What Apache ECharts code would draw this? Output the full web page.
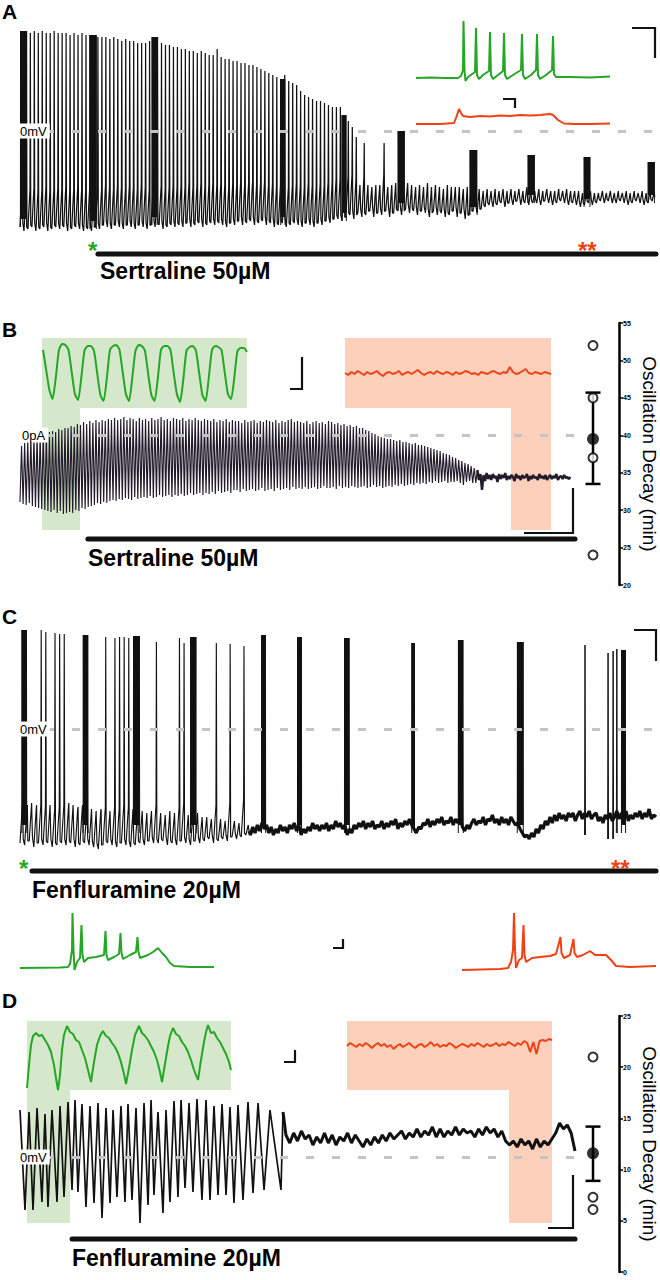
<!DOCTYPE html>
<html><head><meta charset="utf-8"><title>Oscillation decay recordings</title>
<script src="https://cdn.jsdelivr.net/npm/echarts@6/dist/echarts.min.js"></script>
<style>html,body{margin:0;padding:0;background:#fff;}#chart{width:660px;height:1280px;}</style>
</head><body><div id="chart"></div>
<script>
// ================= DATA =================
// ---- Panel A: membrane potential (mV), one value per oscillation cycle ----
const A_peak = [
 50,50,49,50,49,50,49,49,50,49, 49,49,48,49,48,49,48,48,48,47,
 47,47,46,47,46,45,46,45,45,44, 44,44,45,47,47,44,43,43,42,42,
 41,41,40,40,39,40,39,38,38,41, 37,36,36,35,35,34,34,33,33,32,
 31,30,29,28,27,26,28,25,24,23, 20,18,17,16,15,15,14,13,12,12,
 12,8,5,2,-3,-27,-6,-27,-28,-27, -27,-6,-28,-27,-26,-27,-28,-26,-27,-28,
 -27,-28,-26,-28,-27,-28,-29,-27,-28,-28, -28,-29,-28,-27,-28,-29,-30,-29,-30,-29,
 -30,-29,-30,-29,-30,-29,-30,-28,-29,-30, -29,-30,-29,-30,-30,-29,-30,-29,-30,-30,
 -30,-31,-30,-30,-31,-31,-30,-31,-30,-31, -30,-31,-30,-31,-30,-31,-30,-31,-30,-31];
const A_trough = [
 -48,-50,-49,-48,-50,-49,-48,-50,-49,-48, -49,-48,-50,-49,-48,-49,-50,-49,-50,-48,
 -49,-47,-48,-49,-47,-48,-49,-47,-48,-49, -47,-48,-49,-47,-48,-47,-49,-48,-47,-48,
 -47,-48,-46,-48,-47,-46,-48,-47,-46,-47, -46,-47,-48,-46,-47,-45,-47,-46,-45,-47,
 -46,-45,-47,-46,-48,-47,-46,-48,-47,-46, -47,-48,-46,-47,-48,-46,-47,-45,-46,-44,
 -44,-45,-43,-42,-44,-41,-43,-42,-40,-43, -41,-42,-40,-43,-41,-40,-42,-39,-41,-40,
 -42,-40,-41,-43,-40,-42,-41,-43,-42,-40, -43,-41,-44,-42,-40,-41,-39,-38,-37,-38,
 -37,-36,-38,-36,-37,-35,-37,-36,-37,-36, -36,-37,-35,-36,-37,-36,-35,-36,-37,-36,
 -37,-38,-37,-36,-37,-36,-35,-36,-35,-36, -36,-35,-36,-37,-36,-35,-36,-37,-36,-35];
const A_burstStart = [0.1, 17.6, 33.2, 65.6, 81.0, 95.1, 113.2, 127.8, 141.9, 158.0];
const A_burstLen   = [1.6, 1.6, 1.3, 1.1, 1.1, 1.6, 1.8, 1.6, 1.5, 1.6];
const A_burstTop   = [50, 48, 47, 26, 8, 0, -9.5, -12, -13, -15.5];
const A_drug = [19.6, 160];
const A_insetGreen = [[0,52],[14,52.5],[29,52],[42,52],[45,54],[47,60],[47.5,109],[48.5,60],[49.5,49],[52,53],[59,58],[60,102],[61,55],[63,51],[67,55],[73,59],[74,98],[75,55],[77,51],[82,55],[87,59],[88,97],[89,55],[91,51],[97,55],[105,60],[106,96],[107,55],[109,51],[115,55],[120,60],[121,96],[122,55],[124,51],[130,55],[136,60],[137,94],[138,56],[140,53],[154,53],[174,52.5],[194,53.5]];
const A_insetRed = [[0,6],[24,6],[38,7],[40,12],[43,21],[45,17],[47,14],[54,13],[64,14],[74,13.5],[84,14.5],[94,14],[104,15],[114,14.5],[124,15],[134,16],[137,15],[142,10],[148,6.5],[159,6],[174,6],[194,6.5]];

// ---- Panel B: current (pA), per-cycle maxima / minima, then flat tail ----
const B_hi = [
 -22,-16,-12,-6,-4,-2,0,4,2,6, 8,6,12,10,14,14,18,16,22,20,
 26,22,28,24,30,26,30,28,32,30, 34,30,32,36,30,34,32,28,34,30,
 32,28,34,30,32,36,30,32,28,34, 32,30,34,28,32,30,34,30,28,32,
 30,28,32,26,30,28,32,26,30,28, 28,24,30,26,28,30,24,28,26,30,
 28,26,30,24,28,26,30,32,26,28, 26,24,28,22,26,28,24,26,22,28,
 26,22,24,20,22,18,20,16,18,14, 14,10,8,4,2,-2,-4,-6,-8,-8,
 -10,-12,-10,-14,-14,-16,-18,-16,-20,-20, -22,-24,-26,-28,-30,-32,-36,-38,-40,-44,
 -46,-50,-52,-56,-58,-62,-66,-70];
const B_lo = [
 -134,-138,-140,-136,-142,-144,-146,-148,-150,-152, -154,-150,-156,-152,-158,-156,-154,-156,-150,-152,
 -146,-148,-144,-142,-140,-136,-138,-134,-136,-132, -130,-132,-128,-130,-126,-128,-130,-124,-128,-126,
 -124,-126,-122,-126,-124,-120,-124,-122,-120,-124, -120,-122,-118,-122,-120,-116,-120,-118,-116,-120,
 -116,-118,-114,-118,-112,-116,-114,-112,-116,-110, -110,-114,-108,-112,-110,-108,-112,-110,-106,-112,
 -110,-108,-112,-106,-110,-108,-106,-110,-104,-108, -106,-108,-104,-108,-106,-104,-108,-106,-102,-106,
 -106,-104,-108,-102,-106,-104,-106,-102,-104,-106, -104,-102,-106,-104,-100,-104,-102,-106,-104,-102,
 -104,-100,-102,-98,-102,-100,-98,-100,-96,-98, -96,-98,-94,-96,-92,-96,-94,-92,-96,-94,
 -94,-92,-96,-100,-94,-92,-96,-96];
const B_tail = [
 -90,-78,-110,-80,-92,-76,-88,-80,-90,-78, -86,-82,-94,-78,-88,-80,-86,-76,-90,-82,
 -88,-80,-84,-92,-78,-86,-82,-90,-80,-86, -84,-78,-92,-82,-88,-80,-86,-84,-90,-78,
 -86,-82,-88,-80,-90,-84,-80,-88,-82,-86, -78,-90,-84,-82,-88,-80,-86,-84,-88,-84];
const B_insetGreen = [58,38,18,
 9,30,58,64,63,58,36,14, 8,30,57,62,62,57,35,13, 7,29,58,62,63,58,36,14, 7,30,57,63,62,57,34,13,
 7,29,58,62,62,58,35,14, 6,28,57,61,62,57,35,13, 7,30,58,62,61,58,36,14, 9,30,57,60,60,56];
const B_insetRed = [35,33,36,34,37,35,33,36,34,35, 37,34,32,35,36,34,35,37,33,35,
 36,34,36,38,35,33,35,36,34,37, 35,34,36,35,33,36,34,35,37,36,
 34,35,33,36,35,34,36,37,35,34, 36,35,41,36,34,35,37,39,35,34, 36,35,34,36,35,34];
const B_drug = [21.9, 179];
const B_ticks = [20,25,30,35,40,45,50,55];
const B_open = [52, 45, 37, 24];
const B_mean = 39.5;
const B_err = [33.5, 45.7];

// ---- Panel C: membrane potential (mV) ----
const C_peak = [
 -37,-38,-37,-38,49.5,48.5,-38,48,47.5,47.5, -37,-38,-39,-38,-39,-40,-41,-40,46,-41,
 45.5,46,46,45.5,-40,-40,-41,-42,-41,43.5, -42,-43,-41,-42,45.5,43,-43,-42,-42,-44,
 -44,-45,43,-45,-46,42.5,-46,-47,41.5,-48];
const C_trough = [
 -57,-58,-56,-59,-57,-58,-57,-59,-58,-57, -58,-57,-59,-58,-57,-58,-59,-60,-58,-57,
 -58,-59,-57,-58,-59,-58,-57,-58,-56,-57, -57,-56,-58,-57,-58,-56,-57,-58,-56,-57,
 -56,-55,-57,-56,-55,-56,-54,-55,-54,-53];
const C_tail = [
 -53,-49,-52,-48,-51,-47,-50,-48,-52,-49, -53,-50,-52,-48,-51,-49,-52,-48,-50,-47,
 -51,-48,-53,-50,-52,-49,-51,-47,-50,-48, -51,-48,-50,-47,-51,-48,-50,-46,-49,-47,
 -50,-48,-53,-50,-52,-48,-50,-47,-49,-46, -50,-47,-49,-46,-50,-48,-49,-46,-50,-47,
 -49,-46,-48,-45,-50,-47,-49,-46,-48,-45, -48,-50,-52,-49,-50,-47,-48,-45,-49,-46,
 -48,-45,-47,-44,-48,-46,-47,-44,-48,-45, -47,-44,-49,-51,-48,-50,-47,-45,-48,-46,
 -47,-44,-48,-45,-46,-43,-47,-45,-48,-44, -47,-45,-48,-44,-46,-48,-47,-50,-52,-54,
 -53,-55,-52,-54,-50,-52,-48,-50,-46,-48, -44,-47,-43,-46,-42,-45,-43,-46,-42,-44,
 -42,-46,-43,-41,-45,-42,-44,-41,-45,-43, -42,-46,-44,-47,-43,-45,-42,-46,-44,-41,
 -45,-42,-44,-41,-46,-43,-45,-42,-44,-41, -45,-42,-44,-40,-45,-43,-44];
const C_burstStart = [0.4, 13.7, 24.6, 37.0, 52.4, 60.2, 70.4, 85.0, 95.1, 107.9, 130.5];
const C_burstLen   = [1.1, 1.1, 1.4, 1.2, 0.9, 0.9, 1.1, 0.6, 1.1, 1.3, 0.9];
const C_burstTop   = [49.5, 47, 46.5, 46, 47, 46, 45.5, 43, 44.5, 43.5, 39.5];
const C_spikeT   = [122.6, 127.6, 128.7, 129.5];
const C_spikeTop = [42, 38, 39, 40];
const C_spikeBot = [-53, -55, -55, -52];
const C_drug = [2.6, 138];
const C_insetGreen = [[0,7],[40,7.5],[48,8],[50,11],[52,25],[52.5,62],[53.5,25],[54.5,5],[57,13],[60,17],[61.5,50],[62.5,20],[64,13],[68,17],[76,18],[84,20],[85.5,44],[86.5,20],[88,15],[94,18],[99,21],[100.5,42],[101.5,22],[103,16],[110,20],[116,23],[117.5,38],[118.5,23],[120,17],[128,20],[133,23],[138,27],[142,22],[146,18],[150,12],[154,9],[170,8],[194,8]];
const C_insetRed = [[0,5],[38,6],[46,7],[49,13],[51,25],[52,62],[53,25],[54,7],[57,15],[60,17],[61.5,50],[62.5,20],[64,13],[70,17],[78,18],[88,19],[94,21],[98.5,38],[99.5,22],[102,17],[108,20],[111.5,36],[112.5,22],[115,18],[121,20],[128,24],[133,20],[144,20],[149,15],[154,9],[168,8],[194,9]];

// ---- Panel D: membrane potential (mV), [time s, mV] turning points then flat tail ----
const D_osc = [[0,23.5],[0.65,-26.5],[1.17,22.5],[1.69,-26.5],[2.21,24.5],[2.85,-22.5],[3.24,21.5],[3.63,-25],[4.15,23.5],[4.8,-22.5],[5.19,25.5],[5.71,-20],[6.23,27.5],[6.75,-16.5],[7.14,28.5],[7.52,-17.5],[8.04,26.5],[8.56,-25],[9.08,25.5],[9.6,-23],[10.12,27],[10.64,-30.5],[11.16,24.5],[11.68,-23],[12.07,23.5],[12.58,-20],[13.1,25.5],[13.62,-22.5],[14.01,26.5],[14.53,-21.5],[15.05,24.5],[15.57,-33],[16.09,27],[16.61,-24],[17.0,28.5],[17.38,-19],[17.9,22.5],[18.55,-28],[18.94,23.5],[19.46,-22.5],[19.98,28],[20.5,-20],[20.89,28.5],[21.41,-15.5],[21.93,27],[22.44,-17.5],[22.96,29],[23.61,-21.5],[24.13,28.5],[24.65,-21.5],[25.17,25.5],[25.69,-19],[26.21,26.5],[26.73,-19],[27.24,25],[27.76,-23],[28.28,26],[28.93,-21.5],[29.58,27.5],[30.23,-18],[30.88,27],[31.66,-16.5],[32.43,23.5],[33.86,-16.5],[34.12,22.5]];
const D_tailStart = 34.5;
const D_tail = [11,7,12,8,13,9,11,6,10,7, 12,7,11,6,10,8,12,7,11,8, 5,9,6,10,7,11,8,12,9,11,
 13,9,12,10,14,10,13,11,15,10, 14,10,13,11,15,11,14,12,13,10, 14,11,15,12,14,10,13,8,6,8,
 5,9,6,8,4,9,5,8,6,9, 12,17,14,16,12,3];
const D_insetGreen = [[0,2],[2,25],[4,45],[6,54],[9,57],[12,54],[15,55],[18,50],[21,45],[24,38],[27,25],[29,12],[31,0],[33,15],[35,40],[37,55],[40,64],[43,58],[46,56],[49,50],[52,48],[55,40],[58,32],[61,20],[64,8],[67,28],[70,45],[73,54],[76,59],[79,54],[82,52],[85,47],[88,43],[91,37],[94,28],[97,16],[99,6],[102,22],[105,40],[108,55],[112,64],[115,57],[118,54],[121,50],[124,44],[127,38],[130,30],[133,18],[135,8],[138,26],[141,44],[143,54],[146,62],[149,56],[152,54],[155,48],[158,44],[161,38],[164,30],[167,20],[171,10],[174,30],[177,48],[179,58],[181,65],[184,57],[187,58],[190,52],[193,48],[196,42],[199,36],[202,28],[204,20]];
const D_insetRed = [44,47,45,43,46,44,47,45,42,45, 47,44,46,43,45,41,44,46,43,45,
 47,44,42,45,46,43,45,48,44,46, 43,45,44,47,45,42,44,46,45,43,
 46,44,47,45,43,46,44,45,47,44, 46,45,48,46,44,47,45,49,47,38, 48,36,49,50,49,51,50];
const D_drug = [6.75, 72];
const D_ticks = [0,5,10,15,20,25];
const D_open = [21, 7.3, 6.1];
const D_mean = 11.6;
const D_err = [8.9, 14.2];

// ================= BUILD =================
const FONT = '"Liberation Sans", Arial, sans-serif';
const GREEN = '#25a625', RED = '#ee4216', INK = '#111111';
const grids = [], xAxes = [], yAxes = [], series = [];
function addGrid(box, xr, yr) {
  grids.push(Object.assign({containLabel:false}, box));
  const gi = grids.length - 1;
  xAxes.push({gridIndex:gi, type:'value', show:false, min:xr[0], max:xr[1]});
  yAxes.push({gridIndex:gi, type:'value', show:false, min:yr[0], max:yr[1]});
  return gi;
}
function line(gi, data, color, width, extra) {
  series.push(Object.assign({type:'line', xAxisIndex:gi, yAxisIndex:gi, data:data, showSymbol:false, symbol:'none',
    lineStyle:{color:color, width:width}, animation:false, silent:true, z:3}, extra || {}));
}
function cycles(tr, pk, ramp) {
  const d = [];
  for (let i = 0; i < tr.length; i++) {
    const r = Math.min(pk[i], tr[i] + ramp);
    d.push([i, tr[i]], [i + 0.52, r], [i + 0.6, pk[i]], [i + 0.7, tr[i] + 2]);
  }
  return d;
}
function burst(start, len, top, base) {
  const n = Math.max(4, Math.round(len / 0.07));
  const d = [[start, base]];
  for (let k = 0; k < n; k++) d.push([start + (k + 0.5) * len / n, k % 2 ? base + 4 : top]);
  d.push([start + len, base]);
  return d;
}
function zeroLine() {
  return {silent:true, symbol:['none','none'], label:{show:false}, animation:false,
    lineStyle:{color:'#c4c4c4', type:[8,18], width:3}, data:[{yAxis:0}]};
}
function drugBar(gi, range, level) {
  line(gi, [[range[0], level], [range[1], level]], INK, 5, {z:10, lineStyle:{color:INK, width:5, cap:'round'}, markLine:zeroLine()});
}
function indexSeries(arr) { return arr.map((v, i) => [i, v]); }

// Panel A
const gA = addGrid({left:20, top:21, width:636, height:240}, [0, 160], [-65, 55]);
line(gA, cycles(A_trough, A_peak, 20), INK, 1.25);
A_burstStart.forEach((s, k) => line(gA, burst(s, A_burstLen[k], A_burstTop[k], A_trough[Math.floor(s)]), INK, 1));
drugBar(gA, A_drug, -61.5);
const gAi = addGrid({left:416, top:15, width:195, height:115}, [0, 195], [0, 115]);
line(gAi, A_insetGreen, GREEN, 2);
line(gAi, A_insetRed, RED, 2);

// Panel B
const gB = addGrid({left:20, top:410, width:555, height:135}, [0, 179], [-220, 50]);
const bData = [];
for (let i = 0; i < B_hi.length; i++) bData.push([i, B_lo[i]], [i + 0.5, B_hi[i]]);
line(gB, bData, '#221b2a', 1.15);
const bTail = [[B_hi.length - 0.5, B_hi[B_hi.length - 1]]];
B_tail.forEach((v, k) => bTail.push([B_hi.length + k * 0.5, v]));
line(gB, bTail, '#221b2a', 2.4);
drugBar(gB, B_drug, -208);
const gBg = addGrid({left:43, top:338, width:204, height:70}, [0, B_insetGreen.length - 1], [0, 70]);
line(gBg, indexSeries(B_insetGreen), GREEN, 2, {smooth:0.2});
const gBr = addGrid({left:345, top:338, width:206, height:70}, [0, B_insetRed.length - 1], [0, 70]);
line(gBr, indexSeries(B_insetRed), RED, 2);

// Panel C
const gC = addGrid({left:20, top:619, width:636, height:256}, [0, 138], [-73, 55]);
line(gC, cycles(C_trough, C_peak, 19), INK, 1.15);
const cTail = [[C_trough.length - 0.3, C_trough[C_trough.length - 1] + 2]];
C_tail.forEach((v, k) => cTail.push([C_trough.length + k * 0.5, v]));
line(gC, cTail, INK, 3.2);
C_burstStart.forEach((s, k) => line(gC, burst(s, C_burstLen[k], C_burstTop[k], -52), INK, 1));
C_spikeT.forEach((t, k) => line(gC, [[t - 0.1, C_spikeBot[k]], [t, C_spikeTop[k]], [t + 0.1, C_spikeBot[k]]], INK, 1));
drugBar(gC, C_drug, -71);
const gCg = addGrid({left:20, top:905, width:194, height:70}, [0, 194], [0, 70]);
line(gCg, C_insetGreen, GREEN, 2);
const gCr = addGrid({left:462, top:905, width:194, height:70}, [0, 194], [0, 70]);
line(gCr, C_insetRed, RED, 2);

// Panel D
const gD = addGrid({left:20, top:1090, width:555, height:153}, [0, 72], [-43, 33.5]);
line(gD, D_osc, INK, 1.7);
const dTail = [D_osc[D_osc.length - 1]];
D_tail.forEach((v, k) => dTail.push([D_tailStart + k * 0.5, v]));
line(gD, dTail, INK, 3);
drugBar(gD, D_drug, -41);
const gDg = addGrid({left:27, top:1021, width:204, height:69}, [0, 204], [0, 69]);
line(gDg, D_insetGreen, GREEN, 2);
const gDr = addGrid({left:347, top:1021, width:205, height:69}, [0, D_insetRed.length - 1], [0, 69]);
line(gDr, indexSeries(D_insetRed), RED, 2);

// Summary scatter panels
function summary(box, ticks, open, mean, err) {
  grids.push(Object.assign({containLabel:false}, box));
  const gi = grids.length - 1;
  xAxes.push({gridIndex:gi, type:'value', show:false, min:0, max:1});
  yAxes.push({gridIndex:gi, type:'value', position:'right', min:ticks[0], max:ticks[ticks.length - 1],
    interval:ticks[1] - ticks[0],
    axisLine:{show:true, onZero:false, lineStyle:{color:'#000', width:2.5}},
    axisTick:{show:true, inside:false, length:4, lineStyle:{color:'#000', width:1.5}},
    axisLabel:{fontSize:7, fontWeight:'bold', color:'#000', margin:4, fontFamily:FONT},
    splitLine:{show:false},
    name:'Oscillation Decay (min)', nameLocation:'middle', nameRotate:-90, nameGap:21,
    nameTextStyle:{fontSize:19, color:'#000', fontFamily:FONT}});
  series.push({type:'custom', xAxisIndex:gi, yAxisIndex:gi, silent:true, animation:false, z:4,
    data:[[0.5, err[0], err[1]]], encode:{x:0, y:[1, 2]},
    renderItem:function (params, api) {
      const p1 = api.coord([api.value(0), api.value(1)]);
      const p2 = api.coord([api.value(0), api.value(2)]);
      const w = 7.5, st = {stroke:'#000', lineWidth:2.5};
      return {type:'group', children:[
        {type:'line', shape:{x1:p1[0], y1:p1[1], x2:p2[0], y2:p2[1]}, style:st},
        {type:'line', shape:{x1:p1[0]-w, y1:p1[1], x2:p1[0]+w, y2:p1[1]}, style:st},
        {type:'line', shape:{x1:p2[0]-w, y1:p2[1], x2:p2[0]+w, y2:p2[1]}, style:st}]};
    }});
  series.push({type:'scatter', xAxisIndex:gi, yAxisIndex:gi, silent:true, animation:false, z:5,
    data:open.map(v => [0.5, v]), symbol:'circle', symbolSize:9,
    itemStyle:{color:'#fff', borderColor:'#000', borderWidth:2}});
  series.push({type:'scatter', xAxisIndex:gi, yAxisIndex:gi, silent:true, animation:false, z:6,
    data:[[0.5, mean]], symbol:'circle', symbolSize:12, itemStyle:{color:'#000'}});
}
summary({left:567, top:323, width:52, height:262}, B_ticks, B_open, B_mean, B_err);
summary({left:567, top:1016, width:52, height:256}, D_ticks, D_open, D_mean, D_err);

// ---------- decorations (labels, scale bars, highlight boxes) ----------
function txt(x, y, s, font, color, extra) {
  return Object.assign({type:'text', x:x, y:y, z:60, silent:true,
    style:{text:s, font:font, fill:color || '#000', align:'left', verticalAlign:'middle'}}, extra || {});
}
function zeroLabel(x, y, s) {
  const t = txt(x, y, s, '13px ' + FONT, '#000');
  t.style.backgroundColor = '#fff'; t.style.padding = [1, 3, 1, 2];
  return t;
}
function bar(points) {
  return {type:'polyline', z:60, silent:true, shape:{points:points}, style:{stroke:INK, lineWidth:2.2, fill:null}};
}
function rect(x, y, w, h, c) {
  return {type:'rect', z:0, silent:true, shape:{x:x, y:y, width:w, height:h}, style:{fill:c}};
}
const BOXG = '#d5e8cb', BOXR = '#fcd0bb';
const graphic = [
  rect(42, 338, 205, 70, BOXG), rect(42, 408, 38, 122, BOXG),
  rect(345, 338, 206, 70, BOXR), rect(511, 408, 40, 122, BOXR),
  rect(27, 1021, 204, 69, BOXG), rect(27, 1090, 43, 133, BOXG),
  rect(347, 1021, 205, 69, BOXR), rect(509, 1090, 43, 133, BOXR),
  txt(2, 11, 'A', 'bold 21px ' + FONT), txt(2, 329, 'B', 'bold 21px ' + FONT),
  txt(2, 616, 'C', 'bold 21px ' + FONT), txt(2, 1000, 'D', 'bold 21px ' + FONT),
  zeroLabel(18, 131, '0mV'), zeroLabel(20, 435, '0pA'), zeroLabel(18, 729, '0mV'), zeroLabel(18, 1157, '0mV'),
  txt(100, 271, 'Sertraline 50µM', 'bold 23px ' + FONT), txt(88, 558, 'Sertraline 50µM', 'bold 23px ' + FONT),
  txt(32, 890, 'Fenfluramine 20µM', 'bold 23px ' + FONT), txt(72, 1258, 'Fenfluramine 20µM', 'bold 23px ' + FONT),
  txt(88, 250, '*', 'bold 24px ' + FONT, GREEN), txt(578, 250, '**', 'bold 24px ' + FONT, RED),
  txt(19, 868, '*', 'bold 24px ' + FONT, GREEN), txt(611, 868, '**', 'bold 24px ' + FONT, RED),
  bar([[632, 28], [655, 28], [655, 58]]), bar([[503, 99], [515, 99], [515, 108]]),
  bar([[302, 357], [302, 389], [290, 389]]), bar([[573, 488], [573, 533], [524, 533]]),
  bar([[634, 630], [656, 630], [656, 661]]), bar([[343, 939], [343, 948], [333, 948]]),
  bar([[295, 1050], [295, 1062], [284, 1062]]), bar([[573, 1175], [573, 1228], [548, 1228]])
];

const chart = echarts.init(document.getElementById('chart'), null, {renderer:'svg', width:660, height:1280});
chart.setOption({animation:false, backgroundColor:'#fff', textStyle:{fontFamily:FONT},
  grid:grids, xAxis:xAxes, yAxis:yAxes, series:series, graphic:graphic});
</script></body></html>
